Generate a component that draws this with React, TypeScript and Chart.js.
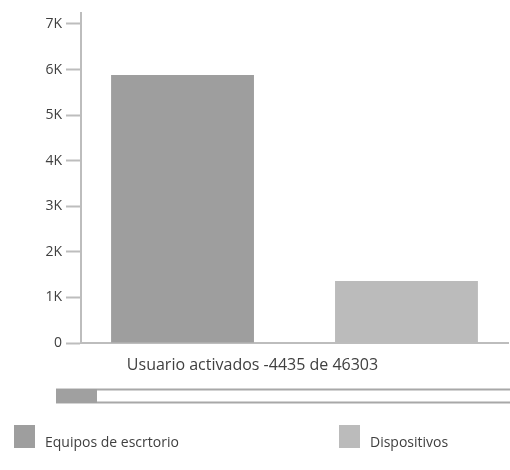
import React, { useEffect, useRef } from "react";
import { Chart, registerables } from "chart.js";

Chart.register(...registerables);

const categories = ["Usuario activados -4435 de 46303"];
const seriesNames = ["Equipos de escrtorio", "Dispositivos"];
const desktopValues = [5880];
const deviceValues = [1360];
const yTickValues = [0, 1000, 2000, 3000, 4000, 5000, 6000, 7000];
const yTickLabels = ["0", "1K", "2K", "3K", "4K", "5K", "6K", "7K"];
const yMax = 7240;

const colors = ["#9e9e9e", "#bbbbbb"];
const FONT = "'Open Sans', 'Noto Sans', sans-serif";

const extrasPlugin = {
  id: "extras",
  afterDraw(chart: any) {
    const ctx = chart.ctx;
    ctx.save();
    // scrollbar
    ctx.strokeStyle = "#a8a8a8";
    ctx.lineWidth = 2;
    ctx.beginPath();
    ctx.moveTo(56, 389.5);
    ctx.lineTo(510, 389.5);
    ctx.moveTo(56, 402.5);
    ctx.lineTo(510, 402.5);
    ctx.stroke();
    ctx.fillStyle = "#a0a0a0";
    ctx.fillRect(56, 389, 41, 14);
    // legend
    const items = [
      { x: 14, text: seriesNames[0], color: colors[0] },
      { x: 339, text: seriesNames[1], color: colors[1] },
    ];
    ctx.font = "14px " + FONT;
    ctx.textBaseline = "alphabetic";
    ctx.textAlign = "left";
    items.forEach((it) => {
      ctx.fillStyle = it.color;
      ctx.fillRect(it.x, 425, 21, 23);
      ctx.fillStyle = "#404040";
      ctx.fillText(it.text, it.x + 31, 447);
    });
    ctx.restore();
  },
};

export default function App() {
  const ref = useRef<HTMLCanvasElement>(null);
  useEffect(() => {
    if (!ref.current) return;
    const chart = new Chart(ref.current, {
      type: "bar",
      data: {
        labels: categories,
        datasets: [
          {
            label: seriesNames[0],
            data: desktopValues,
            backgroundColor: colors[0],
            borderWidth: 0,
          },
          {
            label: seriesNames[1],
            data: deviceValues,
            backgroundColor: colors[1],
            borderWidth: 0,
          },
        ],
      },
      options: {
        responsive: false,
        animation: false,
        datasets: { bar: { categoryPercentage: 1.049, barPercentage: 0.638 } } as any,
        layout: { padding: { top: 13, right: 2, bottom: 0, left: 0 } },
        plugins: { legend: { display: false }, tooltip: { enabled: false } },
        scales: {
          x: {
            grid: { display: false, drawTicks: false },
            border: { display: true, color: "#bdbdbd", width: 2 },
            ticks: {
              color: "#404040",
              font: { family: FONT, size: 16 },
              padding: 13,
              labelOffset: -42,
              maxRotation: 0,
            },
            afterFit: (s: any) => {
              s.height = 127;
            },
          },
          y: {
            min: 0,
            max: yMax,
            afterBuildTicks: (s: any) => {
              s.ticks = yTickValues.map((v) => ({ value: v }));
            },
            grid: {
              drawOnChartArea: false,
              drawTicks: true,
              tickLength: 15,
              tickWidth: 2,
              color: "#bdbdbd",
            },
            border: { display: true, color: "#bdbdbd", width: 2 },
            ticks: {
              color: "#404040",
              font: { family: FONT, size: 14 },
              padding: 4,
              callback: (_v: any, i: number) => yTickLabels[i],
            },
            afterFit: (s: any) => {
              s.width = 81;
            },
          },
        },
      },
      plugins: [extrasPlugin],
    });
    return () => chart.destroy();
  }, []);
  return (
    <div style={{ position: "absolute", left: 0, top: 0, width: 510, height: 470, background: "#fff" }}>
      <canvas ref={ref} width={510} height={470} />
    </div>
  );
}
